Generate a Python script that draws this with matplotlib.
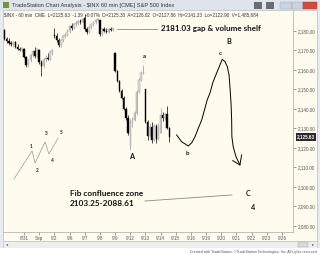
import matplotlib
matplotlib.use("Agg")
import matplotlib.pyplot as plt
from matplotlib.patches import Rectangle

# hourly S&P 500 bars, bar index 0 = first bar of 8/31 (7 bars per day)
bar_idx = list(range(-9, 68))
opens = [2180.5, 2176, 2175, 2174, 2173.5, 2174.5, 2172, 2171, 2170.5,
         2171, 2166.5, 2162.5, 2165, 2167.5, 2169.5, 2167,
         2170.5, 2164, 2162, 2165.5, 2166, 2165.5, 2169,
         2178, 2177.5, 2175.5, 2173, 2175.5, 2177.5, 2178,
         2180, 2182.5, 2181.5, 2183.5, 2184, 2185, 2184.5,
         2186.5, 2181, 2179.5, 2182, 2183.5, 2184.5, 2185.5,
         2185.5, 2178.5, 2181, 2180, 2179.5, 2181, 2180.5,
         2168.5, 2159.5, 2154.5, 2149, 2145.5, 2140, 2135.5,
         2121, 2133, 2134.5, 2138, 2148.5, 2155, 2158.5,
         2150, 2133.5, 2126, 2131, 2124, 2131.5, 2124.5,
         2127.9, 2137, 2135.5, 2137.5, 2130]
highs = [2181, 2177, 2176.5, 2175, 2175, 2175, 2173.5, 2172, 2172,
         2171.5, 2167, 2165.5, 2168, 2170.5, 2172, 2171.5,
         2171, 2165, 2166, 2167.5, 2168.5, 2169.5, 2171,
         2181.5, 2179, 2176.5, 2176, 2178, 2179.5, 2181,
         2183, 2184, 2184, 2185, 2185.5, 2186, 2186.5,
         2188.5, 2182, 2182.5, 2184, 2185, 2186, 2186.5,
         2185.5, 2181.5, 2182, 2181.5, 2181.5, 2182, 2181.5,
         2169, 2160, 2155, 2150, 2146.5, 2141, 2137,
         2135, 2136, 2139, 2149.5, 2156, 2159.5, 2162.5,
         2150.5, 2134.5, 2133, 2133.5, 2132.5, 2132.5, 2133,
         2140.5, 2138.5, 2138, 2141.3, 2131]
lows = [2175.5, 2174, 2173, 2172.5, 2172, 2171.5, 2170.5, 2169.5, 2169,
        2166, 2161.5, 2161.5, 2164, 2166.5, 2166, 2166.5,
        2163, 2157, 2161, 2164, 2165, 2165, 2167.5,
        2176.5, 2174.5, 2172, 2172, 2174.5, 2176.5, 2177.5,
        2179, 2180.5, 2181, 2182.5, 2183, 2183.5, 2184,
        2180, 2178.5, 2179, 2181, 2182.5, 2183.5, 2184.5,
        2177.5, 2177.5, 2179.5, 2179, 2179, 2180, 2180,
        2159, 2154, 2148.5, 2145, 2139.5, 2134.5, 2126.5,
        2119, 2131, 2134, 2137, 2148, 2154.5, 2158,
        2133, 2124, 2125.5, 2122.5, 2123.5, 2122.5, 2124,
        2127.5, 2134, 2134.5, 2129.5, 2122.9]
closes = [2176, 2175, 2174, 2173.5, 2174.5, 2172, 2171, 2170.5, 2171.5,
          2166.5, 2162.5, 2165, 2167.5, 2169.5, 2167, 2171,
          2164, 2162, 2165.5, 2166, 2165.5, 2169, 2170.5,
          2177.5, 2175.5, 2173, 2175.5, 2177.5, 2178, 2180,
          2182.5, 2181.5, 2183.5, 2184, 2185, 2184.5, 2186,
          2181, 2179.5, 2182, 2183.5, 2184.5, 2185.5, 2186,
          2178.5, 2181, 2180, 2179.5, 2181, 2180.5, 2181.3,
          2159.5, 2154.5, 2149, 2145.5, 2140, 2135.5, 2127.8,
          2133, 2134.5, 2138, 2148.5, 2155, 2158.5, 2159,
          2133.5, 2126, 2131, 2124, 2131.5, 2124.5, 2127,
          2137, 2135.5, 2137.5, 2130, 2125.63]

day_labels = ["8/31", "Sep", "9/2", "9/6", "9/7", "9/8", "9/9", "9/12", "9/13",
              "9/14", "9/15", "9/16", "9/19", "9/20", "9/21", "9/22", "9/23", "9/26"]
price_ticks = [2080, 2090, 2100, 2110, 2120, 2130, 2140, 2150, 2160, 2170, 2180]
last_price = 2125.63

# hand drawn projection (bar index, price)
proj_x = [70.4, 72.7, 74.3, 75.8, 77.4, 78.9, 80.4, 82.0, 83.5, 84.5, 85.8, 87.2,
          88.9, 90.4, 91.5, 92.7, 93.8, 94.6, 95.0, 95.5, 95.8, 95.9, 96.5, 97.8, 99.6]
proj_y = [2126.7, 2123.2, 2122.1, 2121.0, 2122.7, 2125.8, 2130.1, 2134.4, 2140.5,
          2144.6, 2148.2, 2153.8, 2158.5, 2162.6, 2165.5, 2164.3, 2161.7, 2157.4,
          2151.4, 2143.1, 2134.4, 2125.8, 2120.7, 2115.5, 2111.3]
# small impulse sketch 1-5
wave_x = [-4.6, 3.7, 5.1, 9.7, 11.5, 15.7]
wave_y = [2104.1, 2118.5, 2112.3, 2123.1, 2116.9, 2125.1]
wave_lbl_x = [3.2, 6.0, 10.1, 12.9, 17.1]
wave_lbl_y = [2121.0, 2108.7, 2127.2, 2113.8, 2127.7]
gap_price = 2181.03
fib_x = [55.8, 95.9]
fib_y = [2092.8, 2095.9]

W, H = 320, 254
fig = plt.figure(figsize=(3.2, 2.54), dpi=100, facecolor="white")

def px_rect(x0, y0, x1, y1, **kw):
    fig.patches.append(Rectangle((x0 / W, 1 - y1 / H), (x1 - x0) / W, (y1 - y0) / H,
                                 transform=fig.transFigure, zorder=-5, **kw))

cream = "#fffbef"
px_rect(0, 0, 320, 254, facecolor="#e6ebf2", edgecolor="none")
px_rect(0, 0, 320, 10, facecolor="#dfe4ec", edgecolor="none")
px_rect(3, 10, 317, 241, facecolor=cream, edgecolor="#b8bcc4", lw=0.5)
px_rect(3, 241, 317, 248, facecolor="#eeeeee", edgecolor="#c0c0c0", lw=0.4)
px_rect(298, 242, 308, 247, facecolor="#d8d8d8", edgecolor="#a8a8a8", lw=0.3)
px_rect(0, 248, 320, 254, facecolor="white", edgecolor="none")
# title bar bits
px_rect(3, 2, 9, 8, facecolor="#6a9a3a", edgecolor="none")
px_rect(254, 2, 262, 9, facecolor="#6a6e74", edgecolor="none")
px_rect(266, 2, 274, 9, facecolor="#6a6e74", edgecolor="none")
px_rect(280, 2, 292, 9, facecolor="#c9d3e0", edgecolor="#9aa6b6", lw=0.3)
px_rect(292, 2, 303, 9, facecolor="#c9d3e0", edgecolor="#9aa6b6", lw=0.3)
px_rect(303, 2, 317, 9, facecolor="#d64a3c", edgecolor="#9a3a30", lw=0.3)

fig.text(12 / W, 1 - 5.5 / H, "TradeStation Chart Analysis - $INX 60 min [CME] S&P 500 Index",
         fontsize=4.1, family="Liberation Sans", color="#333333", va="center")
fig.text(4 / W, 1 - 14.5 / H,
         "$INX - 60 min  CME  L=2125.63  -1.39  -0.07%  D=2125.30  A=2126.02  O=2127.86  "
         "Hi=2141.33  Lo=2122.90  V=1,485,684",
         fontsize=3.3, family="Liberation Sans", color="#333333", va="center")
fig.text(318 / W, 1 - 251.5 / H,
         "Created with TradeStation. \u00a9TradeStation Technologies, Inc. All rights reserved.",
         fontsize=2.6, family="Liberation Sans", color="#555555", va="center", ha="right")
fig.text(6 / W, 1 - 244.5 / H, "\u25c2", fontsize=3, color="#555555", va="center")
fig.text(312 / W, 1 - 244.5 / H, "\u25b8", fontsize=3, color="#555555", va="center")

ax = fig.add_axes([3 / W, 1 - 232 / H, 290 / W, 221 / H])
ax.set_zorder(2)
ax.set_facecolor("none")
ax.set_xlim(-9.69, 124.1)
ax.set_ylim(2076.9, 2190.26)
for s in ["top", "left"]:
    ax.spines[s].set_visible(False)
for s in ["right", "bottom"]:
    ax.spines[s].set_color("#a8a8a8")
    ax.spines[s].set_linewidth(0.5)

# candles
up = [c >= o for o, c in zip(opens, closes)]
ax.vlines(bar_idx, lows, highs, colors=["#9a9a9a" if u else "black" for u in up], lw=0.5, zorder=2)
ax.bar(bar_idx, [abs(c - o) or 0.3 for o, c in zip(opens, closes)], bottom=[min(o, c) for o, c in zip(opens, closes)],
       width=0.65, color=["#dcdcdc" if u else "black" for u in up],
       edgecolor=["#9a9a9a" if u else "black" for u in up], linewidth=0.3, zorder=3)

ax.set_xticks(range(0, 7 * len(day_labels), 7))
ax.set_xticklabels(day_labels)
ax.yaxis.tick_right()
ax.set_yticks(price_ticks)
ax.set_yticklabels([f"{v:,.2f}" for v in price_ticks])
ax.tick_params(axis="x", labelsize=3.3, colors="#555555", length=2, width=0.4, pad=1.2)
ax.tick_params(axis="y", labelsize=3.3, colors="#555555", length=2, width=0.4, pad=1.2)
for t in ax.get_xticklabels() + ax.get_yticklabels():
    t.set_family("Liberation Sans")

ax.text(1.013, last_price, f"{last_price:,.2f}", transform=ax.get_yaxis_transform(),
        fontsize=3.3, family="Liberation Sans", fontweight="bold", color="white", va="center", ha="left",
        bbox=dict(boxstyle="square,pad=0.25", facecolor="#2a2a2a", edgecolor="none"), clip_on=False)

# annotations
ax.plot(proj_x, proj_y, color="black", lw=0.7, zorder=4)
ax.plot([96.3, 99.6, 100.4], [2113.5, 2111.3, 2116.4], color="black", lw=0.7, zorder=4)
ax.plot(wave_x, wave_y, color="#999999", lw=0.5)
for i, (x, y) in enumerate(zip(wave_lbl_x, wave_lbl_y)):
    ax.text(x, y, str(i + 1), fontsize=3.4, family="Lato", fontweight="bold", color="#222222",
            ha="center", va="center")
ax.plot([42.9, 61.3], [gap_price, gap_price], color="#8a8a8a", lw=0.6)
ax.plot(fib_x, fib_y, color="#8a8a8a", lw=0.6)

bold = dict(family="Lato", fontweight="bold", color="#111111", va="center")
ax.text(63.2, gap_price, f"{gap_price:.2f} gap & volume shelf", fontsize=5.75, ha="left", **bold)
ax.text(21.2, 2096.9, "Fib confluence zone", fontsize=5.95, ha="left", **bold)
ax.text(21.2, 2091.3, "2103.25-2088.61", fontsize=5.95, ha="left", **bold)
ax.text(55.4, 2166.7, "a", fontsize=4.4, ha="center", **bold)
ax.text(49.4, 2115.4, "A", fontsize=5.2, ha="center", **bold)
ax.text(75.6, 2117.4, "b", fontsize=4.4, ha="center", **bold)
ax.text(90.4, 2168.7, "c", fontsize=4.4, ha="center", **bold)
ax.text(94.6, 2174.4, "B", fontsize=5.2, ha="center", **bold)
ax.text(103.3, 2096.9, "C", fontsize=5.2, ha="center", **bold)
ax.text(105.6, 2089.7, "4", fontsize=5.2, ha="center", **bold)

fig.savefig("out.png", dpi=100)
